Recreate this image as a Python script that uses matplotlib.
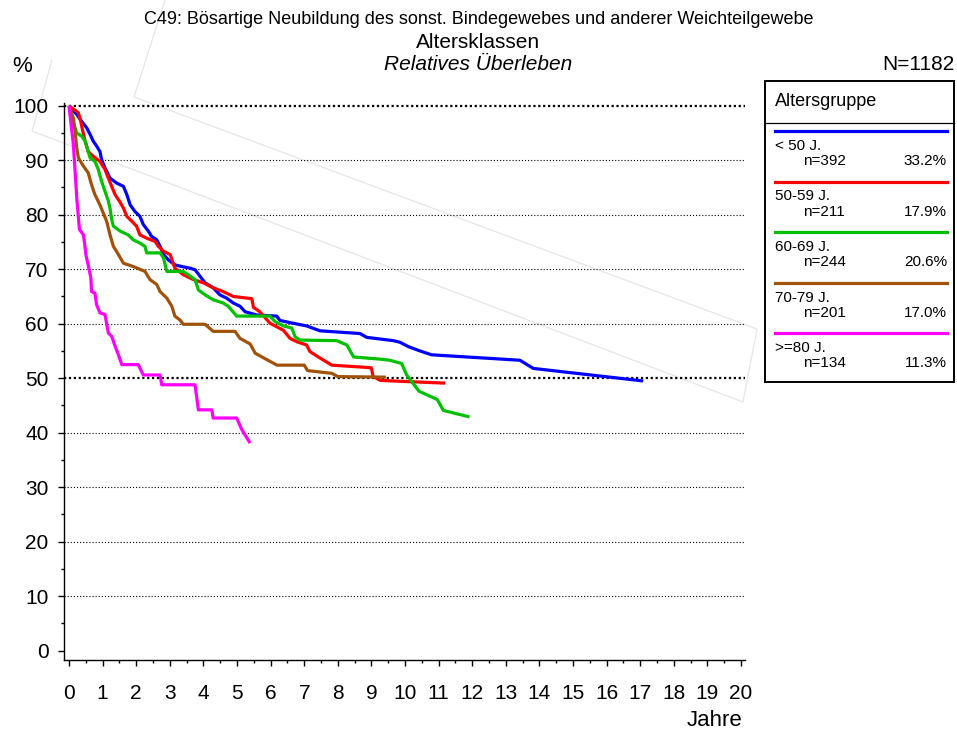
import matplotlib
matplotlib.use("Agg")
import matplotlib.pyplot as plt
from matplotlib.lines import Line2D
from matplotlib.patches import Rectangle
from matplotlib.ticker import MultipleLocator

plt.rcParams['font.family'] = ['Liberation Sans', 'DejaVu Sans']

# ---------------- data ----------------
groups = ["< 50 J.", "50-59 J.", "60-69 J.", "70-79 J.", ">=80 J."]
n_counts = ["n=392", "n=211", "n=244", "n=201", "n=134"]
percents = ["33.2%", "17.9%", "20.6%", "17.0%", "11.3%"]
colors = ["#0000ff", "#ff0000", "#00c000", "#a0520a", "#ff00ff"]

t_lt50 = [0, 0.23, 0.38, 0.53, 0.63, 0.72, 0.82, 0.92, 0.97, 1.07, 1.22, 1.42, 1.62, 1.72, 1.82,
          1.96, 2.11, 2.21, 2.36, 2.46, 2.61, 2.71, 2.81, 2.96, 3.15, 3.35, 3.6, 3.75, 3.9, 4.05,
          4.29, 4.49, 4.69, 4.89, 5.09, 5.24, 5.59, 6.18, 6.28, 6.58, 7.07, 7.47, 8.66, 8.86,
          9.65, 9.85, 10.1, 10.45, 10.79, 13.42, 13.82, 17.09]
v_lt50 = [100, 98.4, 97.1, 95.9, 94.7, 93.5, 92.6, 91.6, 90.1, 88.6, 86.7, 85.8, 85.2, 83.7, 81.8,
          80.6, 79.7, 78.2, 77.0, 76.0, 75.4, 74.2, 72.7, 71.7, 70.8, 70.5, 70.2, 69.9, 68.7, 67.5,
          66.6, 65.3, 64.7, 63.8, 63.2, 62.2, 61.6, 61.4, 60.6, 60.2, 59.6, 58.7, 58.2, 57.5,
          56.9, 56.6, 55.8, 55.0, 54.3, 53.3, 51.8, 49.5]

t_50_59 = [0, 0.28, 0.35, 0.41, 0.48, 0.57, 0.72, 0.92, 1.07, 1.17, 1.27, 1.37, 1.5, 1.62, 1.72,
           1.87, 2.01, 2.11, 2.31, 2.56, 2.66, 2.81, 3.01, 3.15, 3.4, 3.7, 4.0, 4.29, 4.59, 4.89,
           5.44, 5.49, 5.68, 5.98, 6.38, 6.58, 6.78, 7.07, 7.17, 7.42, 7.82, 8.82, 9.0, 9.05,
           9.27, 10.0, 11.2]
v_50_59 = [100, 98.7, 97.1, 95.3, 93.5, 91.6, 90.7, 89.8, 88.3, 86.7, 85.2, 83.7, 82.5, 81.2, 79.7,
           78.8, 77.9, 76.3, 75.7, 75.1, 74.2, 73.3, 72.7, 70.2, 69.0, 68.1, 67.5, 66.6, 65.9, 65.0,
           64.6, 63.0, 62.2, 60.1, 58.8, 57.3, 56.7, 56.1, 54.9, 53.9, 52.4, 52.0, 51.9, 50.3,
           49.6, 49.4, 49.1]

t_60_69 = [0, 0.13, 0.23, 0.38, 0.48, 0.57, 0.63, 0.77, 0.87, 0.97, 1.07, 1.17, 1.22, 1.27, 1.32,
           1.52, 1.76, 1.91, 2.11, 2.26, 2.31, 2.71, 2.81, 2.91, 3.4, 3.55, 3.75, 3.85, 4.05, 4.29,
           4.59, 4.74, 4.99, 5.98, 6.13, 6.38, 6.63, 6.73, 6.87, 7.97, 8.27, 8.47, 9.27, 9.55,
           9.9, 10.05, 10.42, 10.96, 11.14, 11.92]
v_60_69 = [100, 96.8, 95.0, 94.4, 93.5, 91.6, 90.4, 89.8, 88.3, 86.1, 84.3, 82.5, 81.2, 79.1, 77.9,
           77.0, 76.3, 75.4, 74.8, 74.2, 73.0, 73.0, 72.1, 69.6, 69.6, 69.0, 68.1, 66.2, 65.3, 64.4,
           63.8, 63.2, 61.4, 61.4, 60.4, 59.6, 59.2, 57.6, 57.0, 56.9, 56.1, 53.9, 53.5, 53.3,
           52.7, 50.6, 47.6, 46.1, 44.1, 42.9]

t_70_79 = [0, 0.13, 0.18, 0.23, 0.28, 0.43, 0.57, 0.67, 0.77, 0.92, 1.02, 1.12, 1.22, 1.32, 1.47,
           1.62, 1.91, 2.26, 2.41, 2.61, 2.71, 2.91, 3.06, 3.15, 3.3, 3.4, 4.05, 4.29, 4.94, 5.09,
           5.39, 5.54, 5.92, 6.19, 7.0, 7.1, 7.82, 8.0, 9.43]
v_70_79 = [100, 97.7, 95.3, 92.2, 90.4, 88.9, 87.7, 85.5, 83.7, 81.8, 80.3, 78.8, 76.3, 74.2, 72.7,
           71.1, 70.5, 69.6, 68.1, 67.2, 65.9, 64.7, 63.2, 61.4, 60.7, 59.9, 59.9, 58.6, 58.6, 57.3,
           56.3, 54.6, 53.3, 52.4, 52.4, 51.4, 50.9, 50.3, 50.2]

t_ge80 = [0, 0.13, 0.18, 0.23, 0.28, 0.31, 0.43, 0.51, 0.57, 0.65, 0.67, 0.77, 0.82, 0.92, 1.07,
          1.17, 1.27, 1.37, 1.47, 1.57, 2.06, 2.21, 2.71, 2.76, 3.75, 3.85, 4.25, 4.29, 4.99,
          5.14, 5.39]
v_ge80 = [100, 92.8, 88.0, 83.1, 79.4, 77.3, 76.3, 72.4, 70.8, 68.4, 65.9, 65.6, 63.5, 62.0, 61.7,
          58.3, 57.7, 55.9, 54.3, 52.5, 52.5, 50.6, 50.6, 48.8, 48.8, 44.2, 44.2, 42.7, 42.7,
          40.6, 38.1]

series_t = [t_lt50, t_50_59, t_60_69, t_70_79, t_ge80]
series_v = [v_lt50, v_50_59, v_60_69, v_70_79, v_ge80]

y_ticks = list(range(0, 101, 10))
x_ticks = list(range(0, 21))

# ---------------- figure ----------------
W, H = 957, 730
fig = plt.figure(figsize=(W / 100, H / 100), dpi=100)
fig.patch.set_facecolor("white")


def fx(px):
    return px / W


def fy(py):
    return 1 - py / H


# faint background watermark outline (decorative)
wm_paths = [
    [(165, 0), (134, 97), (757, 329), (743, 402), (32, 131), (52, 60)],
]
for path in wm_paths:
    xs = [fx(p[0]) for p in path]
    ys = [fy(p[1]) for p in path]
    fig.lines.append(Line2D(xs, ys, transform=fig.transFigure, color="#e6e6e6",
                            lw=0.9, zorder=-5))

ax_l, ax_r, ax_t, ax_b = 64, 745, 103, 660
ax = fig.add_axes([ax_l / W, 1 - ax_b / H, (ax_r - ax_l) / W, (ax_b - ax_t) / H])
ax.set_xlim(-0.15, 20.12)
ax.set_ylim(-1.7, 100.5)
ax.patch.set_alpha(0)

for sp in ["top", "right"]:
    ax.spines[sp].set_visible(False)
for sp in ["left", "bottom"]:
    ax.spines[sp].set_linewidth(1.0)
    ax.spines[sp].set_color("black")

# grid lines
for y in y_ticks[1:]:
    if y in (50, 100):
        ax.axhline(y, color="black", lw=1.6, ls=(0, (1, 1.2)), zorder=1)
    else:
        ax.axhline(y, color="black", lw=0.8, ls=(0, (1, 1.8)), zorder=1)

for tt, vv, c in zip(series_t, series_v, colors):
    ax.plot(tt, vv, color=c, lw=2.3, solid_joinstyle="round", solid_capstyle="butt", zorder=3)

ax.set_xticks(x_ticks)
ax.set_yticks(y_ticks)
ax.xaxis.set_minor_locator(MultipleLocator(0.5))
ax.yaxis.set_minor_locator(MultipleLocator(5))
ax.tick_params(axis="both", which="major", direction="out", length=4, width=1.0,
               labelsize=15, color="black")
ax.tick_params(axis="both", which="minor", direction="out", length=2.5, width=1.0, color="black")
ax.tick_params(axis="x", which="major", pad=13)
ax.tick_params(axis="y", which="major", pad=7)

# ---------------- titles ----------------
fig.text(0.5, 1 - 19 / H, "C49: Bösartige Neubildung des sonst. Bindegewebes und anderer Weichteilgewebe",
         ha="center", va="center", fontsize=13)
fig.text(0.5, 1 - 42 / H, "Altersklassen", ha="center", va="center", fontsize=15)
fig.text(0.5, 1 - 64 / H, "Relatives Überleben", ha="center", va="center", fontsize=15, style="italic")
fig.text(12 / W, 1 - 66 / H, "%", ha="left", va="center", fontsize=16)
fig.text(955 / W, 1 - 64 / H, "N=1182", ha="right", va="center", fontsize=15)
fig.text(742 / W, 1 - 720 / H, "Jahre", ha="right", va="center", fontsize=16)

# ---------------- legend box ----------------
lb_l, lb_r, lb_t, lb_b = 765, 954, 81, 382
fig.patches.append(Rectangle((fx(lb_l), fy(lb_b)), fx(lb_r) - fx(lb_l), fy(lb_t) - fy(lb_b),
                             transform=fig.transFigure, facecolor="white", edgecolor="black",
                             lw=1.4, zorder=1))
fig.lines.append(Line2D([fx(lb_l), fx(lb_r)], [fy(123), fy(123)], transform=fig.transFigure,
                        color="black", lw=0.9, zorder=2))
fig.text(fx(775), fy(101), "Altersgruppe", ha="left", va="center", fontsize=13)

step = 50.5
for i, (g, n, p, c) in enumerate(zip(groups, n_counts, percents, colors)):
    y0 = 131 + step * i
    fig.lines.append(Line2D([fx(775), fx(947)], [fy(y0), fy(y0)], transform=fig.transFigure,
                            color=c, lw=2.3, zorder=2))
    fig.text(fx(775), fy(y0 + 15), g, ha="left", va="center", fontsize=11)
    fig.text(fx(803), fy(y0 + 30), n, ha="left", va="center", fontsize=11)
    fig.text(fx(947), fy(y0 + 30), p, ha="right", va="center", fontsize=11)

fig.savefig("out.png", dpi=100, facecolor="white")
